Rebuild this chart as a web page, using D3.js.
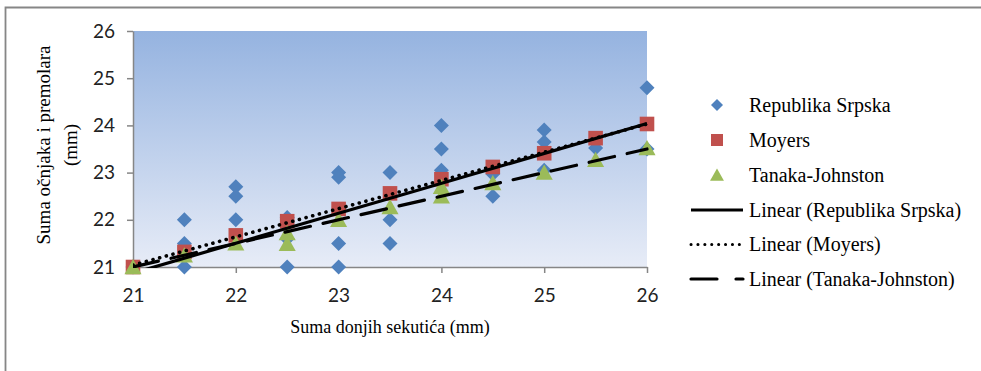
<!DOCTYPE html>
<html>
<head>
<meta charset="utf-8">
<script src="https://cdn.jsdelivr.net/npm/d3@7"></script>
<style>
  html, body { margin: 0; padding: 0; background: #fff; }
  svg { display: block; }
</style>
</head>
<body>
<div id="chart"></div>
<script>
// ---------------- DATA ----------------
const xTicks = [21, 22, 23, 24, 25, 26];
const yTicks = [21, 22, 23, 24, 25, 26];

const rsX = [21, 21.5, 21.5, 21.5, 22, 22, 22, 22.5, 22.5, 22.5, 23, 23, 23, 23, 23.5, 23.5, 23.5, 24, 24, 24, 24.5, 24.5, 25, 25, 25, 25.5, 26, 26];
const rsY = [21.0, 22.0, 21.5, 21.0, 22.7, 22.5, 22.0, 22.05, 21.6, 21.0, 23.0, 22.9, 21.5, 21.0, 23.0, 22.0, 21.5, 24.0, 23.5, 23.05, 22.97, 22.5, 23.9, 23.65, 23.05, 23.52, 24.8, 23.5];

const moyersX = [21, 21.5, 22, 22.5, 23, 23.5, 24, 24.5, 25, 25.5, 26];
const moyersY = [21.0, 21.32, 21.67, 21.97, 22.23, 22.56, 22.86, 23.12, 23.41, 23.73, 24.03];

const tanakaX = [21, 21.5, 22, 22.5, 22.5, 23, 23.5, 24, 24, 24.5, 25, 25.5, 26];
const tanakaY = [21.0, 21.25, 21.5, 21.72, 21.49, 22.0, 22.27, 22.7, 22.5, 22.78, 23.0, 23.27, 23.52];

// linear trend values at x = 21 and x = 26
const trendX = [21, 26];
const rsTrend = [20.87, 24.04];
const moyersTrend = [21.04, 24.03];
const tanakaTrend = [21.0, 23.5];

const legendLabels = ["Republika Srpska", "Moyers", "Tanaka-Johnston",
  "Linear (Republika Srpska)", "Linear (Moyers)", "Linear (Tanaka-Johnston)"];

// ---------------- DRAW ----------------
const W = 981, H = 371;
const svg = d3.select("#chart").append("svg").attr("width", W).attr("height", H);

svg.append("rect").attr("width", W).attr("height", H).attr("fill", "#fff");
svg.append("path").attr("d", "M5.5,371V7.5H981").attr("fill", "none")
  .attr("stroke", "#868686").attr("stroke-width", 1.8);

const x = d3.scaleLinear().domain([21, 26]).range([133, 647]);
const y = d3.scaleLinear().domain([21, 26]).range([267, 31]);

const defs = svg.append("defs");
const grad = defs.append("linearGradient").attr("id", "bg").attr("x1", 0).attr("y1", 0).attr("x2", 0).attr("y2", 1);
grad.append("stop").attr("offset", "0%").attr("stop-color", "#95b3e0");
grad.append("stop").attr("offset", "100%").attr("stop-color", "#e7ecf7");
defs.append("clipPath").attr("id", "plotclip").append("rect")
  .attr("x", x(21)).attr("y", y(26) - 2).attr("width", x(26) - x(21) + 2).attr("height", y(21) - y(26) + 3);

svg.append("rect").attr("x", x(21)).attr("y", y(26))
  .attr("width", x(26) - x(21)).attr("height", y(21) - y(26)).attr("fill", "url(#bg)");

// axes
const axisColor = "#868686";
const tickFont = "Lato, 'Open Sans', sans-serif";
const gy = svg.append("g").attr("transform", `translate(${x(21)},0)`)
  .call(d3.axisLeft(y).tickValues(yTicks).tickSize(6).tickSizeOuter(0).tickPadding(12).tickFormat(d3.format("d")));
const gx = svg.append("g").attr("transform", `translate(0,${y(21)})`)
  .call(d3.axisBottom(x).tickValues(xTicks).tickSize(6).tickSizeOuter(0).tickPadding(16).tickFormat(d3.format("d")));
[gx, gy].forEach(g => {
  g.select(".domain").attr("stroke", axisColor).attr("stroke-width", 1.5);
  g.selectAll(".tick line").attr("stroke", axisColor).attr("stroke-width", 1.5);
  g.selectAll(".tick text").attr("fill", "#222").style("font-family", tickFont).style("font-size", "19px");
});

// markers
const blue = "#4f81bd", red = "#c0504d", green = "#9bbb59";
function diamond(s) { return `M0,${-s}L${s},0L0,${s}L${-s},0Z`; }
function square(s) { return `M${-s},${-s}H${s}V${s}H${-s}Z`; }
function triangle(s) { return `M0,${-s}L${s * 1.07},${s * 0.9}L${-s * 1.07},${s * 0.9}Z`; }

const plot = svg.append("g");
plot.selectAll(".rs").data(rsX).join("path").attr("class", "rs")
  .attr("d", diamond(7.5)).attr("fill", blue)
  .attr("transform", (d, i) => `translate(${x(d)},${y(rsY[i])})`);
plot.selectAll(".mo").data(moyersX).join("path").attr("class", "mo")
  .attr("d", square(7.3)).attr("fill", red)
  .attr("transform", (d, i) => `translate(${x(d)},${y(moyersY[i])})`);
plot.selectAll(".ta").data(tanakaX).join("path").attr("class", "ta")
  .attr("d", triangle(8)).attr("fill", green)
  .attr("transform", (d, i) => `translate(${x(d)},${y(tanakaY[i])})`);

// trend lines
const line = d3.line().x(d => x(d[0])).y(d => y(d[1]));
const trends = [
  { vals: rsTrend, dash: null, cap: "butt" },
  { vals: moyersTrend, dash: "0.1,6.8", cap: "round" },
  { vals: tanakaTrend, dash: "26,13", cap: "round" }
];
const tg = svg.append("g").attr("clip-path", "url(#plotclip)");
trends.forEach(t => {
  tg.append("path").datum(trendX.map((d, i) => [d, t.vals[i]]))
    .attr("d", line).attr("fill", "none").attr("stroke", "#000")
    .attr("stroke-width", t.dash === "0.1,6.8" ? 3.6 : 3.2)
    .attr("stroke-linecap", t.cap)
    .attr("stroke-dasharray", t.dash);
});

// axis titles
const serif = "'Liberation Serif', 'Times New Roman', serif";
svg.append("text").attr("x", 390).attr("y", 333).attr("text-anchor", "middle")
  .style("font-family", serif).style("font-size", "18px").attr("fill", "#000")
  .text("Suma donjih sekutića (mm)");
const yt = svg.append("text").attr("transform", "translate(0,145) rotate(-90)")
  .attr("text-anchor", "middle").style("font-family", serif).style("font-size", "19px").attr("fill", "#000");
yt.append("tspan").attr("x", 0).attr("y", 50).text("Suma očnjaka i premolara");
yt.append("tspan").attr("x", 0).attr("y", 77).text("(mm)");

// legend
const legRows = [105, 140, 175, 210, 244.5, 279];
const lg = svg.append("g");
legendLabels.forEach((lab, i) => {
  const ry = legRows[i];
  if (i === 0) lg.append("path").attr("d", diamond(6)).attr("fill", blue).attr("transform", `translate(717,${ry})`);
  if (i === 1) lg.append("path").attr("d", square(6)).attr("fill", red).attr("transform", `translate(717,${ry})`);
  if (i === 2) lg.append("path").attr("d", triangle(6.5)).attr("fill", green).attr("transform", `translate(717,${ry})`);
  if (i >= 3) {
    const t = trends[i - 3];
    lg.append("line").attr("x1", 691).attr("x2", 743).attr("y1", ry).attr("y2", ry)
      .attr("stroke", "#000").attr("stroke-width", t.dash === "0.1,6.8" ? 3 : 3.2)
      .attr("stroke-linecap", t.cap).attr("stroke-dasharray", t.dash === "26,13" ? "26,19" : t.dash);
  }
  lg.append("text").attr("x", 749).attr("y", ry + 6.5)
    .style("font-family", serif).style("font-size", "20px").attr("fill", "#000").text(lab);
});
</script>
</body>
</html>
